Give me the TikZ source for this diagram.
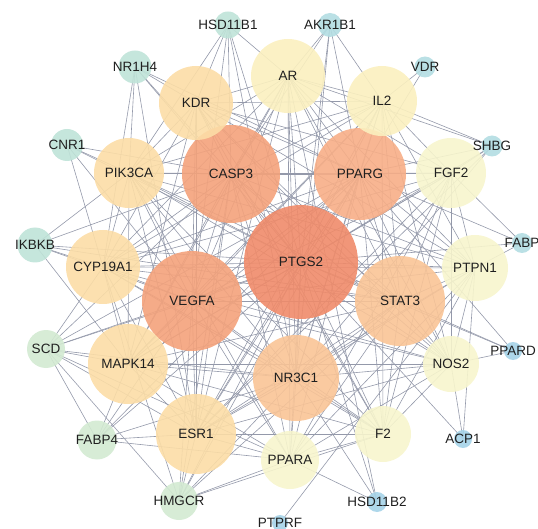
\documentclass[tikz,border=0pt]{standalone}
\usepackage{fontspec}
\setmainfont{Liberation Sans}
\usetikzlibrary{backgrounds}

\definecolor{hot}{HTML}{F08B6A}
\definecolor{warm}{HTML}{F4A27B}
\definecolor{warmlight}{HTML}{F7AE87}
\definecolor{tan}{HTML}{F9C496}
\definecolor{sand}{HTML}{FCDDA6}
\definecolor{cream}{HTML}{FBF0BF}
\definecolor{pale}{HTML}{F7F5CD}
\definecolor{mint}{HTML}{BFE3D8}
\definecolor{aqua}{HTML}{B2DDE2}
\definecolor{sky}{HTML}{A5D3E8}
\definecolor{sage}{HTML}{D3EAD2}
\definecolor{wire}{HTML}{9499AA}

\begin{document}
\begin{tikzpicture}[x=1pt, y=-1pt,
    gene/.style={circle, inner sep=0pt, minimum size=#1, fill opacity=0.9},
    every label/.style={font=\fontsize{13.5}{15}\selectfont, text=black!88},
    edge/.style={wire, line width=0.6pt}]
    \useasboundingbox (0,0) rectangle (538,529);

    % hub and large nodes
    \node[gene=114, fill=hot, label=center:PTGS2] (ptgs) at (301,262) {};
    \node[gene=98, fill=warm, label=center:CASP3] (casp) at (231,174) {};
    \node[gene=92, fill=warmlight, label=center:PPARG] (pparg) at (360,174) {};
    \node[gene=100, fill=warm, label=center:VEGFA] (vegfa) at (192,301) {};
    \node[gene=90, fill=tan, label=center:STAT3] (stat) at (400,301) {};
    \node[gene=86, fill=tan, label=center:NR3C1] (nrc) at (296,378) {};

    % middle ring
    \node[gene=80, fill=sand, label=center:MAPK14] (mapk) at (128,364) {};
    \node[gene=80, fill=sand, label=center:ESR1] (esr) at (196,434) {};
    \node[gene=74, fill=sand, label=center:CYP19A1] (cyp) at (103,267) {};
    \node[gene=70, fill=sand, label=center:PIK3CA] (pik) at (129,173) {};
    \node[gene=74, fill=sand, label=center:KDR] (kdr) at (196,103) {};
    \node[gene=74, fill=cream, label=center:AR] (ar) at (288,76) {};
    \node[gene=70, fill=cream, label=center:IL2] (il2) at (382,101) {};
    \node[gene=70, fill=pale, label=center:FGF2] (fgf) at (451,173) {};
    \node[gene=66, fill=pale, label=center:PTPN1] (ptpn) at (475,268) {};
    \node[gene=56, fill=pale, label=center:NOS2] (nos) at (451,364) {};
    \node[gene=56, fill=pale, label=center:F2] (f2) at (383,434) {};
    \node[gene=58, fill=pale, label=center:PPARA] (ppara) at (290,460) {};

    % outer ring
    \node[gene=27, fill=mint, label=center:HSD11B1] (hsd1) at (228,25) {};
    \node[gene=24, fill=aqua, label=center:AKR1B1] (akr) at (330,25) {};
    \node[gene=33, fill=mint, label=center:NR1H4] (nrh) at (135,67) {};
    \node[gene=21, fill=aqua, label=center:VDR] (vdr) at (425,67) {};
    \node[gene=32, fill=mint, label=center:CNR1] (cnr) at (67,145) {};
    \node[gene=21, fill=aqua, label=center:SHBG] (shbg) at (492,146) {};
    \node[gene=35, fill=mint, label=center:IKBKB] (ikbkb) at (35,245) {};
    \node[gene=20, fill=aqua, label=center:FABP] (fabp) at (522,243) {};
    \node[gene=38, fill=sage, label=center:SCD] (scd) at (46,349) {};
    \node[gene=18, fill=sky, label=center:PPARD] (ppard) at (513,351) {};
    \node[gene=39, fill=sage, label=center:FABP4] (fabp4) at (97,440) {};
    \node[gene=18, fill=sky, label=center:ACP1] (acp) at (463,439) {};
    \node[gene=38, fill=sage, label=center:HMGCR] (hmgcr) at (179,501) {};
    \node[gene=20, fill=sky, label=center:HSD11B2] (hsd2) at (377,502) {};
    \node[gene=16, fill=sky, label=center:PTPRF] (ptprf) at (280,523) {};

    % interactions
    \begin{pgfonlayer}{background}
    \foreach \t in {casp,pparg,vegfa,stat,nrc,mapk,esr,cyp,pik,kdr,ar,il2,fgf,ptpn,nos,f2,ppara,hsd1,akr,nrh,cnr,shbg,ikbkb,fabp,scd,ppard,fabp4,acp,hmgcr,hsd2}
        \draw[edge] (ptgs.center) -- (\t.center);
    \foreach \t in {pparg,vegfa,stat,nrc,mapk,esr,cyp,pik,kdr,ar,il2,fgf,ptpn,nos,f2,ppara,hsd1,nrh,cnr,ikbkb,scd,hmgcr,akr}
        \draw[edge] (casp.center) -- (\t.center);
    \foreach \t in {vegfa,stat,nrc,mapk,esr,cyp,pik,kdr,ar,il2,fgf,ptpn,nos,f2,ppara,akr,vdr,shbg,fabp,scd,fabp4,hmgcr,ppard,nrh}
        \draw[edge] (pparg.center) -- (\t.center);
    \foreach \t in {stat,nrc,mapk,esr,cyp,pik,kdr,ar,il2,fgf,ptpn,nos,f2,ppara,hsd1,ikbkb,scd,fabp4,hmgcr,cnr}
        \draw[edge] (vegfa.center) -- (\t.center);
    \foreach \t in {nrc,mapk,esr,cyp,pik,kdr,ar,il2,fgf,ptpn,nos,f2,ppara,ikbkb,ppard,hmgcr}
        \draw[edge] (stat.center) -- (\t.center);
    \foreach \t in {mapk,esr,cyp,pik,ar,il2,ptpn,nos,f2,ppara,hsd1,hsd2,scd,fabp4,hmgcr,akr,shbg}
        \draw[edge] (nrc.center) -- (\t.center);
    \foreach \t in {esr,cyp,pik,kdr,ar,il2,fgf,nos,f2,ppara,ikbkb,scd,fabp4}
        \draw[edge] (mapk.center) -- (\t.center);
    \foreach \t in {cyp,pik,kdr,ar,il2,fgf,ptpn,nos,f2,ppara,fabp4,hmgcr,scd,shbg,nrh}
        \draw[edge] (esr.center) -- (\t.center);
    \foreach \t in {pik,kdr,ar,il2,fgf,ptpn,nos,f2,ikbkb,scd,hmgcr,nrh,cnr}
        \draw[edge] (cyp.center) -- (\t.center);
    \foreach \t in {kdr,ar,il2,fgf,ptpn,nos,f2,ppara,cnr,nrh,ikbkb,hsd1}
        \draw[edge] (pik.center) -- (\t.center);
    \foreach \t in {ar,il2,fgf,ptpn,nos,f2,hsd1,nrh}
        \draw[edge] (kdr.center) -- (\t.center);
    \foreach \t in {il2,fgf,ptpn,nos,ppara,akr,hsd1,shbg,hsd2}
        \draw[edge] (ar.center) -- (\t.center);
    \foreach \t in {fgf,ptpn,nos,f2,akr,vdr,shbg}
        \draw[edge] (il2.center) -- (\t.center);
    \foreach \t in {ptpn,nos,f2,ppara,shbg,fabp}
        \draw[edge] (fgf.center) -- (\t.center);
    \foreach \t in {nos,f2,ppara,fabp,acp,ptprf}
        \draw[edge] (ptpn.center) -- (\t.center);
    \foreach \t in {f2,ppara,ppard,acp}
        \draw[edge] (nos.center) -- (\t.center);
    \draw[edge] (f2.center) -- (ppara.center);
    \draw[edge] (f2.center) -- (hmgcr.center);
    \foreach \t in {hmgcr,fabp4,scd,hsd2}
        \draw[edge] (ppara.center) -- (\t.center);
    \draw[edge] (scd.center) -- (fabp4.center);
    \draw[edge] (scd.center) -- (hmgcr.center);
    \end{pgfonlayer}
\end{tikzpicture}
\end{document}
